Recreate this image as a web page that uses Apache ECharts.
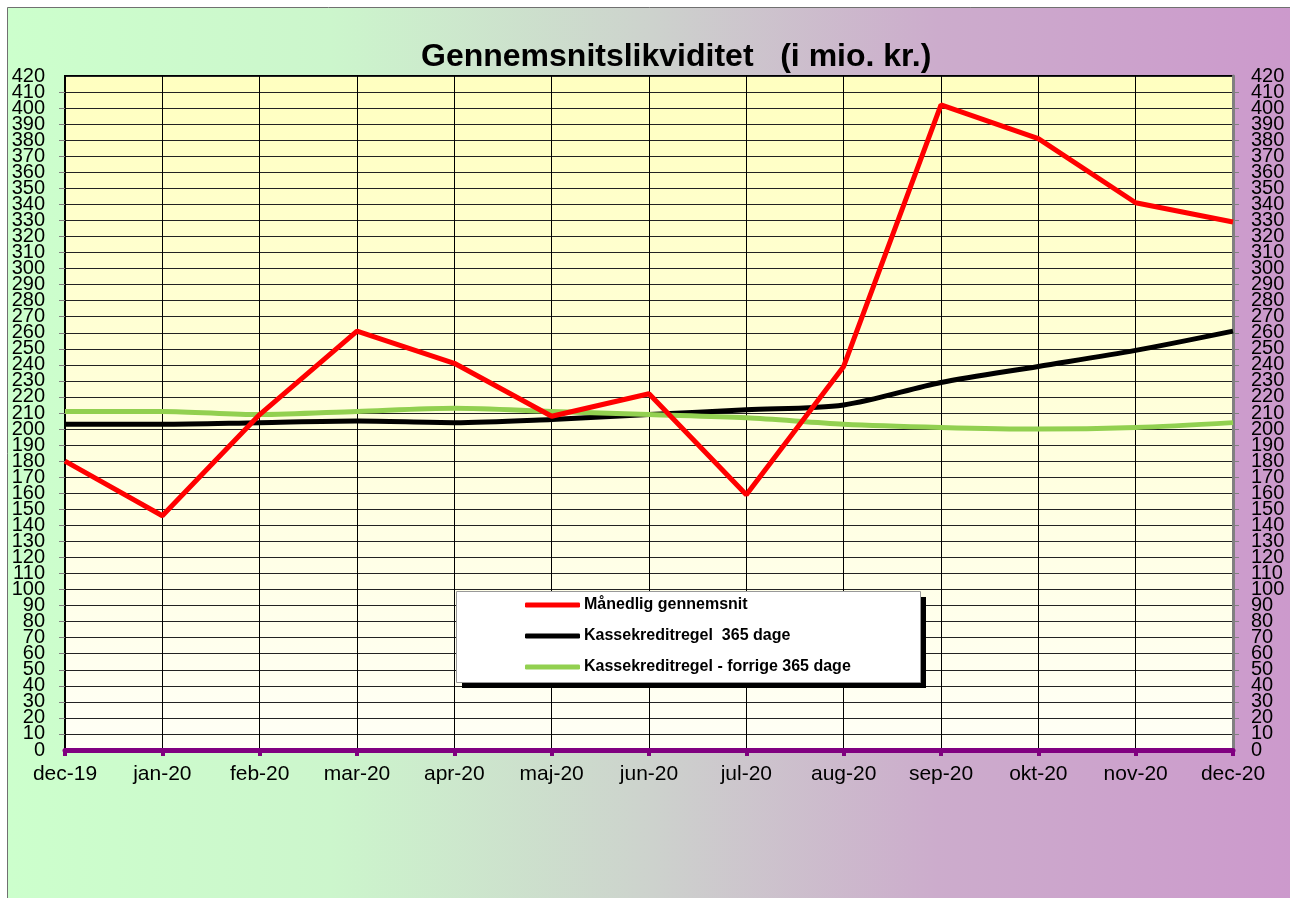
<!DOCTYPE html>
<html>
<head>
<meta charset="utf-8">
<script src="https://cdn.jsdelivr.net/npm/echarts@6/dist/echarts.min.js"></script>
<style>
  html, body { margin: 0; padding: 0; background: #fff; }
  #chart { width: 1290px; height: 898px; }
</style>
</head>
<body>
<div id="chart"></div>
<script>
const months = ['dec-19', 'jan-20', 'feb-20', 'mar-20', 'apr-20', 'maj-20', 'jun-20',
  'jul-20', 'aug-20', 'sep-20', 'okt-20', 'nov-20', 'dec-20']
const maanedlig = [180, 146, 209, 261, 241, 208, 222, 159, 239, 402, 381, 341, 329]
const kasse365 = [203, 203, 204, 205, 204, 206, 209, 212, 215, 229, 239, 249, 261]
const forrige365 = [211, 211, 209, 211, 213, 211, 209, 207, 203, 201, 200, 201, 204]

const font = 'Liberation Sans, Arial, sans-serif'

const myChart = echarts.init(document.getElementById('chart'))

// inner ticks 10..410 on the main axes, 0 and 420 on overlay axes
// (the labels are closer than their height, so ECharts would drop some)
function makeAxis(position, margin, main) {
  const ax = {
    type: 'value',
    position: position,
    min: 0,
    max: 420,
    interval: main ? 10 : 420,
    axisLabel: {
      color: '#000', fontSize: 20, fontFamily: font, margin: margin,
      showMinLabel: !main, showMaxLabel: !main
    },
    axisTick: { show: main, length: 6, lineStyle: { color: '#808080' } },
    axisLine: { show: false },
    splitLine: { show: false }
  }
  if (main && position === 'left') {
    ax.axisLine = { show: true, lineStyle: { color: '#000', width: 2 } }
    ax.splitLine = { show: true, lineStyle: { color: '#222', width: 1 } }
  }
  if (main && position === 'right') {
    ax.axisLine = { show: true, lineStyle: { color: '#808080', width: 3 } }
  }
  return ax
}

const option = {
  animation: false,
  graphic: [
    {
      type: 'rect',
      z: -10,
      shape: { x: 7.5, y: 7.5, width: 1290, height: 898 },
      style: {
        fill: new echarts.graphic.LinearGradient(0, 0, 1, 0, [
          { offset: 0, color: '#ccffcc' },
          { offset: 0.25, color: '#ccf6cc' },
          { offset: 0.5, color: '#cdd2cd' },
          { offset: 0.72, color: '#ccaccc' },
          { offset: 1, color: '#cc99cc' }
        ]),
        stroke: '#707070',
        lineWidth: 1
      }
    },
    // legend box shadow and box
    {
      type: 'rect',
      z: 10,
      shape: { x: 462, y: 597, width: 464, height: 91 },
      style: { fill: '#000' }
    },
    {
      type: 'rect',
      z: 11,
      shape: { x: 456.5, y: 591.5, width: 464, height: 91 },
      style: { fill: '#fff', stroke: '#999', lineWidth: 1 }
    }
  ],
  title: {
    text: 'Gennemsnitslikviditet   (i mio. kr.)',
    left: 416,
    top: 36,
    textStyle: { fontFamily: font, fontSize: 32, fontWeight: 'bold', color: '#000' }
  },
  legend: {
    orient: 'vertical',
    left: 525,
    top: 597,
    padding: 0,
    itemGap: 15,
    itemWidth: 55,
    itemHeight: 5,
    icon: 'roundRect',
    z: 12,
    textStyle: { fontFamily: font, fontSize: 16, fontWeight: 'bold', color: '#000', padding: [0, 0, 0, -1] },
    data: ['Månedlig gennemsnit', 'Kassekreditregel  365 dage', 'Kassekreditregel - forrige 365 dage']
  },
  grid: {
    left: 65,
    right: 57,
    top: 76,
    bottom: 148,
    show: true,
    borderColor: '#000',
    borderWidth: 2,
    backgroundColor: new echarts.graphic.LinearGradient(0, 0, 0, 1, [
      { offset: 0, color: '#ffffc0' },
      { offset: 1, color: '#fffff6' }
    ])
  },
  xAxis: {
    type: 'category',
    data: months,
    boundaryGap: false,
    axisLine: { lineStyle: { color: '#800080', width: 5 } },
    axisTick: { show: true, length: 6, lineStyle: { color: '#800080', width: 4 } },
    axisLabel: { color: '#000', fontSize: 21, fontFamily: font, margin: 14 },
    splitLine: { show: true, lineStyle: { color: '#000', width: 1 } }
  },
  yAxis: [
    makeAxis('left', 20, true),
    makeAxis('right', 18, true),
    makeAxis('left', 20, false),
    makeAxis('right', 18, false)
  ],
  series: [
    {
      name: 'Månedlig gennemsnit',
      type: 'line',
      data: maanedlig,
      symbol: 'none',
      lineStyle: { color: '#ff0000', width: 5 },
      itemStyle: { color: '#ff0000' },
      z: 5
    },
    {
      name: 'Kassekreditregel  365 dage',
      type: 'line',
      data: kasse365,
      smooth: 0.3,
      symbol: 'none',
      lineStyle: { color: '#000', width: 5 },
      itemStyle: { color: '#000' },
      z: 3
    },
    {
      name: 'Kassekreditregel - forrige 365 dage',
      type: 'line',
      data: forrige365,
      smooth: 0.3,
      symbol: 'none',
      lineStyle: { color: '#92d050', width: 5 },
      itemStyle: { color: '#92d050' },
      z: 4
    }
  ]
}

myChart.setOption(option)
</script>
</body>
</html>
